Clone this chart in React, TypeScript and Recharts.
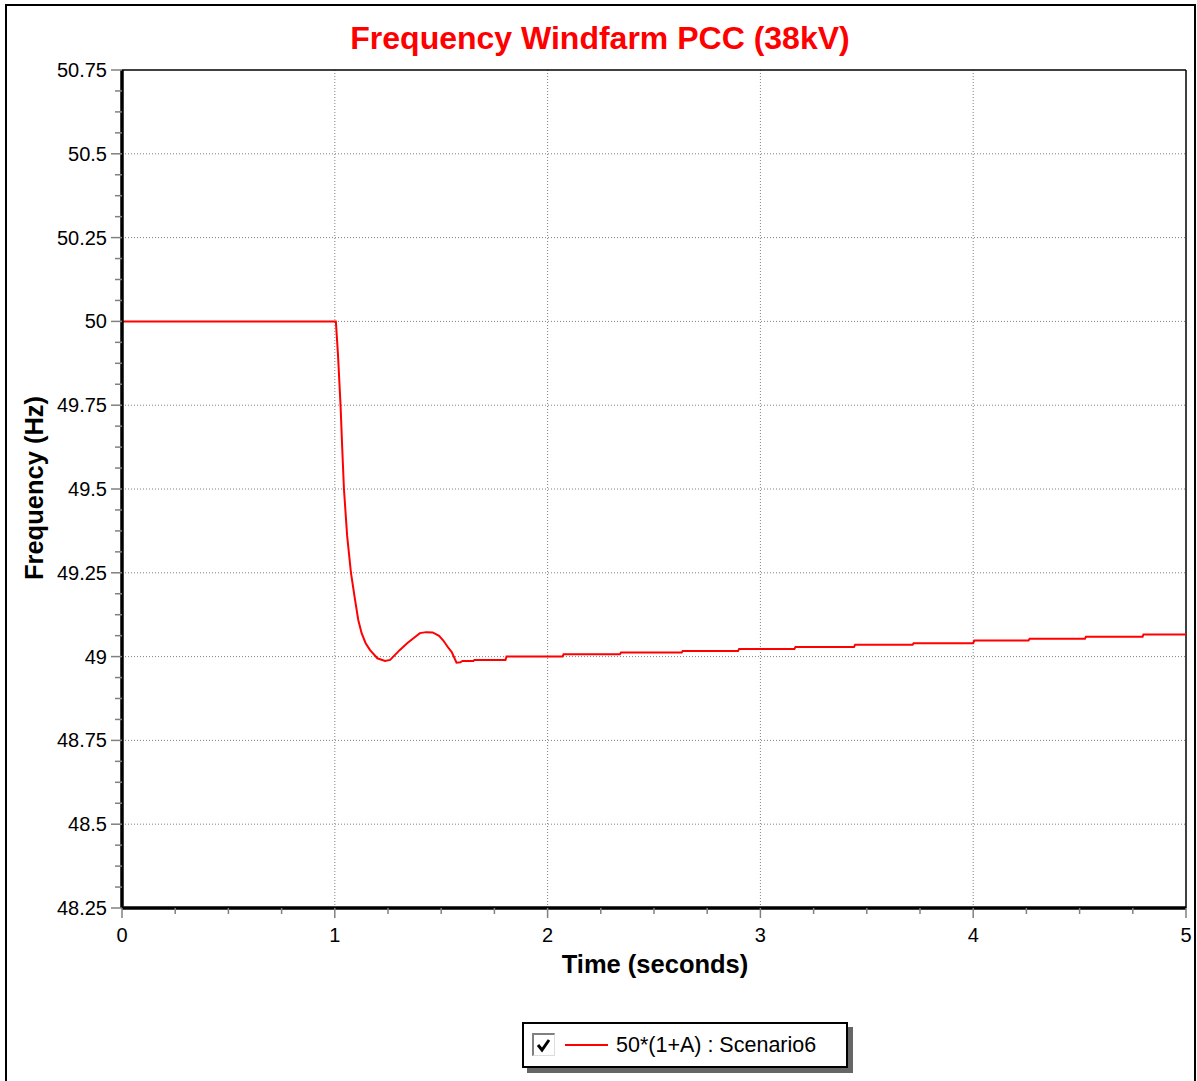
import { LineChart, Line, XAxis, YAxis, ReferenceLine } from 'recharts';

// time (s) and frequency (Hz)
const timeS = [
  0, 1.005, 1.015, 1.027, 1.035, 1.043, 1.058, 1.076, 1.095, 1.11, 1.126, 1.145, 1.165,
  1.2, 1.236, 1.26, 1.306, 1.34, 1.368, 1.4, 1.43, 1.46, 1.49, 1.51, 1.535, 1.55, 1.572,
  1.59, 1.6, 1.651, 1.656, 1.802, 1.807, 2.07, 2.075, 2.34, 2.345, 2.63, 2.635, 2.895, 2.9,
  3.16, 3.165, 3.44, 3.445, 3.715, 3.72, 4.0, 4.005, 4.26, 4.265, 4.525, 4.53, 4.796, 4.8, 5,
];
const freqHz = [
  50, 50, 49.9, 49.75, 49.62, 49.5, 49.36, 49.25, 49.17, 49.11, 49.07, 49.04, 49.02,
  48.995, 48.987, 48.99, 49.02, 49.04, 49.054, 49.07, 49.073, 49.072, 49.062, 49.048, 49.025, 49.013, 48.982,
  48.983, 48.987, 48.987, 48.99, 48.99, 49.0, 49.0, 49.007, 49.007, 49.012, 49.012, 49.017, 49.017, 49.023,
  49.023, 49.029, 49.029, 49.035, 49.035, 49.04, 49.04, 49.048, 49.048, 49.053, 49.053, 49.059, 49.059, 49.066, 49.066,
];

const xMajor = [0, 1, 2, 3, 4, 5];
const yMajor = [48.25, 48.5, 48.75, 49, 49.25, 49.5, 49.75, 50, 50.25, 50.5, 50.75];

// 3 minor ticks between each pair of major ticks
function subdivide(major: number[], parts: number) {
  const out: number[] = [];
  for (let i = 0; i < major.length - 1; i++) {
    for (let k = 0; k < parts; k++) out.push(major[i] + ((major[i + 1] - major[i]) * k) / parts);
  }
  out.push(major[major.length - 1]);
  return out;
}
const xTicks = subdivide(xMajor, 4);
const yTicks = subdivide(yMajor, 4);

const data = timeS.map((t, i) => ({ t, f: freqHz[i] }));

const FONT = '"Liberation Sans", Arial, Helvetica, sans-serif';

function XTick(props: any) {
  const { x, y, payload } = props;
  const major = xMajor.includes(payload.value);
  return (
    <g>
      <line x1={x} x2={x} y1={y} y2={y + (major ? 10 : 6)} stroke="#808080" strokeWidth={1.5} />
      {major && (
        <text x={x} y={y + 34} textAnchor="middle" fontSize={20} fontFamily={FONT} fill="#000">
          {payload.value}
        </text>
      )}
    </g>
  );
}

function YTick(props: any) {
  const { x, y, payload } = props;
  const major = yMajor.includes(payload.value);
  return (
    <g>
      <line x1={x - (major ? 11 : 7)} x2={x} y1={y} y2={y} stroke="#808080" strokeWidth={1.5} />
      {major && (
        <text x={x - 15} y={y + 7} textAnchor="end" fontSize={20} fontFamily={FONT} fill="#000">
          {payload.value}
        </text>
      )}
    </g>
  );
}

const grid = { stroke: '#808080', strokeDasharray: '1 2', strokeWidth: 1 };

export default function App() {
  return (
    <div style={{ position: 'absolute', left: 0, top: 0, width: 1197, height: 1081, overflow: 'hidden', background: '#fff', fontFamily: FONT }}>
      <div style={{ position: 'absolute', left: 5, top: 4, width: 1187, height: 1100, border: '2px solid #000' }} />

      <div style={{ position: 'absolute', left: 0, top: 20, width: 1200, textAlign: 'center', color: '#ff0000', fontWeight: 'bold', fontSize: 32, lineHeight: '36px' }}>
        Frequency Windfarm PCC (38kV)
      </div>

      <div style={{ position: 'absolute', left: 34, top: 488, transform: 'translate(-50%, -50%) rotate(-90deg)', whiteSpace: 'nowrap', fontWeight: 'bold', fontSize: 25.5, lineHeight: '28px' }}>
        Frequency (Hz)
      </div>

      <div style={{ position: 'absolute', left: 655, top: 964, transform: 'translate(-50%, -50%)', whiteSpace: 'nowrap', fontWeight: 'bold', fontSize: 25.5, lineHeight: '28px' }}>
        Time (seconds)
      </div>

      <div style={{ position: 'absolute', left: 0, top: 0 }}>
        <LineChart width={1197} height={1081} data={data} margin={{ top: 70, right: 11, left: 12, bottom: 133 }}>
          {xMajor.slice(1, -1).map((v) => (
            <ReferenceLine key={'gx' + v} x={v} {...grid} />
          ))}
          {yMajor.slice(1, -1).map((v) => (
            <ReferenceLine key={'gy' + v} y={v} {...grid} />
          ))}
          <ReferenceLine y={50.75} stroke="#000" strokeWidth={1.5} />
          <ReferenceLine x={5} stroke="#000" strokeWidth={1.5} />
          <XAxis
            dataKey="t"
            type="number"
            domain={[0, 5]}
            ticks={xTicks}
            interval={0}
            height={40}
            tickSize={0}
            tickMargin={0}
            tickLine={false}
            tick={<XTick />}
            axisLine={{ stroke: '#000', strokeWidth: 3.5 }}
          />
          <YAxis
            type="number"
            domain={[48.25, 50.75]}
            ticks={yTicks}
            interval={0}
            width={110}
            tickSize={0}
            tickMargin={0}
            tickLine={false}
            tick={<YTick />}
            axisLine={{ stroke: '#000', strokeWidth: 3.5 }}
            allowDataOverflow
          />
          <Line type="linear" dataKey="f" stroke="#ff0000" strokeWidth={2} dot={false} isAnimationActive={false} />
        </LineChart>
      </div>

      <div style={{ position: 'absolute', left: 522, top: 1022, width: 322, height: 42, border: '2px solid #000', background: '#fff', boxShadow: '5px 5px 0 #666' }}>
        <div style={{ position: 'absolute', left: 8, top: 9, width: 20, height: 20, borderTop: '2px solid #808080', borderLeft: '2px solid #808080', borderRight: '1px solid #ddd', borderBottom: '1px solid #ddd', background: '#fff' }}>
          <svg width={20} height={20} style={{ position: 'absolute', left: 0, top: 0 }}>
            <polyline points="4,10 8,15 15,5" fill="none" stroke="#000" strokeWidth={3} />
          </svg>
        </div>
        <div style={{ position: 'absolute', left: 41, top: 20, width: 43, height: 2, background: '#ff0000' }} />
        <div style={{ position: 'absolute', left: 92, top: 8, fontSize: 21.5, lineHeight: '26px', whiteSpace: 'nowrap' }}>
          50*(1+A) : Scenario6
        </div>
      </div>
    </div>
  );
}
